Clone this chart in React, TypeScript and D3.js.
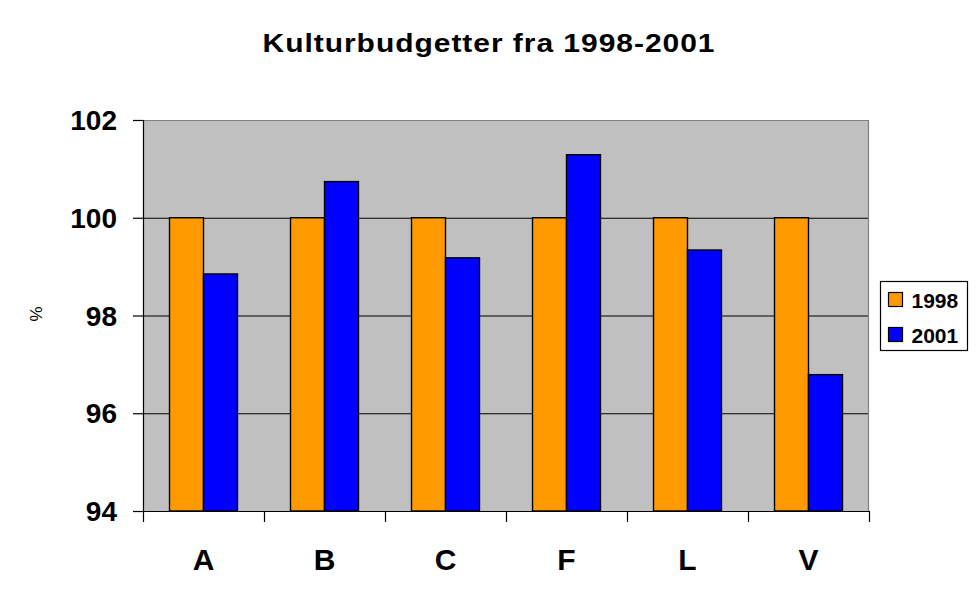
import { useEffect, useRef } from "react";
import * as d3 from "d3";

const categories = ["A", "B", "C", "F", "L", "V"];
const seriesNames = ["1998", "2001"];
const values1998 = [100, 100, 100, 100, 100, 100];
const values2001 = [98.85, 100.74, 99.18, 101.29, 99.34, 96.79];
const yTicks = [94, 96, 98, 100, 102];

const COLORS: Record<string, string> = {
  "1998": "#FF9900",
  "2001": "#0000FF",
};

const FONT = "'Liberation Sans', Arial, sans-serif";

export default function App() {
  const svgRef = useRef<SVGSVGElement>(null);

  useEffect(() => {
    document.body.style.margin = "0";
    if (!svgRef.current) return;

    const width = 977;
    const height = 600;
    const svg = d3.select(svgRef.current);
    svg.selectAll("*").remove();
    svg.attr("width", width).attr("height", height).attr("viewBox", `0 0 ${width} ${height}`);

    svg.append("rect").attr("width", width).attr("height", height).attr("fill", "white");

    const plot = { left: 143, right: 869, top: 120, bottom: 511 };

    const x = d3.scaleBand().domain(categories).range([plot.left, plot.right]).padding(0);
    const x1 = d3
      .scaleBand()
      .domain(seriesNames)
      .range([0, x.bandwidth()])
      .paddingInner(0)
      .paddingOuter(0.78);
    const y = d3.scaleLinear().domain([94, 102]).range([plot.bottom, plot.top]);

    // Plot area background
    svg
      .append("rect")
      .attr("x", plot.left)
      .attr("y", plot.top)
      .attr("width", plot.right - plot.left)
      .attr("height", plot.bottom - plot.top)
      .attr("fill", "#C0C0C0");

    // Gridlines
    svg
      .selectAll(".grid")
      .data(yTicks.filter((t) => t > 94 && t < 102))
      .join("line")
      .attr("x1", plot.left)
      .attr("x2", plot.right)
      .attr("y1", (d) => y(d) + 0.5)
      .attr("y2", (d) => y(d) + 0.5)
      .attr("stroke", "black")
      .attr("stroke-width", 1.2);

    // Top & right border (gray)
    svg
      .append("path")
      .attr("d", `M${plot.left},${plot.top + 0.5}H${plot.right - 0.5}V${plot.bottom}`)
      .attr("fill", "none")
      .attr("stroke", "#808080")
      .attr("stroke-width", 1.2);

    // Bars
    const rows = categories.map((c, i) => ({
      cat: c,
      vals: [
        { s: "1998", v: values1998[i] },
        { s: "2001", v: values2001[i] },
      ],
    }));

    const groups = svg
      .selectAll(".grp")
      .data(rows)
      .join("g")
      .attr("transform", (d) => `translate(${x(d.cat)},0)`);

    groups
      .selectAll("rect")
      .data((d) => d.vals)
      .join("rect")
      .attr("x", (d) => x1(d.s)!)
      .attr("width", x1.bandwidth())
      .attr("y", (d) => y(d.v))
      .attr("height", (d) => y(94) - y(d.v))
      .attr("fill", (d) => COLORS[d.s])
      .attr("stroke", "black")
      .attr("stroke-width", 1.4);

    // Y axis
    svg
      .append("line")
      .attr("x1", plot.left + 0.5)
      .attr("x2", plot.left + 0.5)
      .attr("y1", plot.top)
      .attr("y2", plot.bottom)
      .attr("stroke", "black")
      .attr("stroke-width", 1.2);

    svg
      .selectAll(".ytick")
      .data(yTicks)
      .join("line")
      .attr("x1", plot.left - 10)
      .attr("x2", plot.left)
      .attr("y1", (d) => y(d) + 0.5)
      .attr("y2", (d) => y(d) + 0.5)
      .attr("stroke", "black")
      .attr("stroke-width", 1.2);

    svg
      .selectAll(".ylab")
      .data(yTicks)
      .join("text")
      .attr("x", 117)
      .attr("y", (d) => y(d) + 10)
      .attr("text-anchor", "end")
      .attr("font-family", FONT)
      .attr("font-weight", "bold")
      .attr("font-size", 28)
      .text((d) => d);

    // X axis
    svg
      .append("line")
      .attr("x1", plot.left)
      .attr("x2", plot.right)
      .attr("y1", plot.bottom + 0.5)
      .attr("y2", plot.bottom + 0.5)
      .attr("stroke", "black")
      .attr("stroke-width", 1.2);

    const xTickPos = categories.map((c) => x(c)!).concat([plot.right]);
    svg
      .selectAll(".xtick")
      .data(xTickPos)
      .join("line")
      .attr("x1", (d) => d + 0.5)
      .attr("x2", (d) => d + 0.5)
      .attr("y1", plot.bottom)
      .attr("y2", plot.bottom + 11)
      .attr("stroke", "black")
      .attr("stroke-width", 1.2);

    svg
      .selectAll(".xlab")
      .data(categories)
      .join("text")
      .attr("x", (d) => x(d)! + x.bandwidth() / 2)
      .attr("y", 570)
      .attr("text-anchor", "middle")
      .attr("font-family", FONT)
      .attr("font-weight", "bold")
      .attr("font-size", 30)
      .text((d) => d);

    // Y label
    svg
      .append("text")
      .attr("transform", "translate(42,314) rotate(-90)")
      .attr("text-anchor", "middle")
      .attr("font-family", FONT)
      .attr("font-size", 17)
      .text("%");

    // Title (the original glyphs are wider than Liberation's, so stretch it a bit)
    svg
      .append("text")
      .attr("transform", "translate(489,52) scale(1.2,1)")
      .attr("text-anchor", "middle")
      .attr("font-family", FONT)
      .attr("font-weight", "bold")
      .attr("font-size", 25)
      .attr("letter-spacing", 0.8)
      .text("Kulturbudgetter fra 1998-2001");

    // Legend
    const legend = svg.append("g").attr("transform", "translate(880.5,281.5)");
    legend
      .append("rect")
      .attr("width", 87)
      .attr("height", 69)
      .attr("fill", "white")
      .attr("stroke", "black")
      .attr("stroke-width", 1.2);

    seriesNames.forEach((s, i) => {
      const ly = 11 + i * 35;
      legend
        .append("rect")
        .attr("x", 8)
        .attr("y", ly)
        .attr("width", 14)
        .attr("height", 14)
        .attr("fill", COLORS[s])
        .attr("stroke", "black")
        .attr("stroke-width", 1.2);
      legend
        .append("text")
        .attr("x", 31)
        .attr("y", ly + 15)
        .attr("font-family", FONT)
        .attr("font-weight", "bold")
        .attr("font-size", 21)
        .text(s);
    });
  }, []);

  return <svg ref={svgRef} style={{ display: "block" }} />;
}
